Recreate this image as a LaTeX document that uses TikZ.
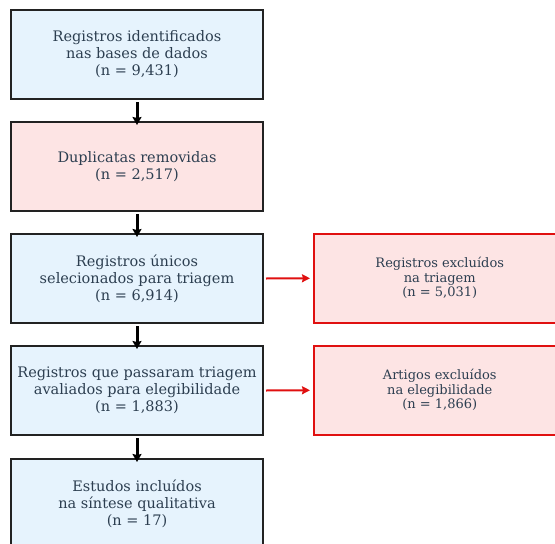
\documentclass[tikz,border=0pt]{standalone}
\usepackage{fontspec}
\setmainfont{DejaVu Serif}
\usetikzlibrary{arrows.meta}
\definecolor{txt}{HTML}{2C3E50}
\definecolor{bluefill}{HTML}{E6F3FD}
\definecolor{redfill}{HTML}{FDE4E4}
\definecolor{redline}{HTML}{E01010}
\definecolor{darkline}{HTML}{222222}
\tikzset{
  basebox/.style={minimum width=252pt, minimum height=89pt, align=center, text=txt, anchor=north west, inner sep=0pt},
  bluebox/.style={basebox, draw=darkline, line width=2pt, fill=bluefill, font=\fontsize{14.5}{17}\selectfont},
  pinkbox/.style={basebox, draw=darkline, line width=2pt, fill=redfill, font=\fontsize{14.5}{17}\selectfont},
  redbox/.style={basebox, draw=redline, line width=1.5pt, fill=redfill, font=\fontsize{13}{14.5}\selectfont},
  downarrow/.style={-{Stealth[length=8pt,width=9pt,inset=1pt]}, line width=3pt, black},
  redarrow/.style={-{Stealth[length=8pt,width=8pt,inset=1pt]}, line width=2pt, redline},
}
\begin{document}
\begin{tikzpicture}[x=1pt,y=-1pt]
\useasboundingbox (0,0) rectangle (555,544);
\node[bluebox] (b1) at (10,9) {Registros identificados\\nas bases de dados\\(n = 9,431)};
\node[pinkbox] (b2) at (10,121) {Duplicatas removidas\\(n = 2,517)};
\node[bluebox] (b3) at (10,233) {Registros únicos\\selecionados para triagem\\(n = 6,914)};
\node[bluebox] (b4) at (10,345) {Registros que passaram triagem\\avaliados para elegibilidade\\(n = 1,883)};
\node[bluebox] (b5) at (10,458) {Estudos incluídos\\na síntese qualitativa\\(n = 17)};
\node[redbox] (r1) at (313,233) {Registros excluídos\\na triagem\\(n = 5,031)};
\node[redbox] (r2) at (313,345) {Artigos excluídos\\na elegibilidade\\(n = 1,866)};
\draw[downarrow] ([yshift=-2pt]b1.south) -- ([yshift=-4pt]b2.north);
\draw[downarrow] ([yshift=-2pt]b2.south) -- ([yshift=-4pt]b3.north);
\draw[downarrow] ([yshift=-2pt]b3.south) -- ([yshift=-4pt]b4.north);
\draw[downarrow] ([yshift=-2pt]b4.south) -- ([yshift=-4pt]b5.north);
\draw[redarrow] ([xshift=2pt]b3.east) -- ([xshift=-3pt]r1.west);
\draw[redarrow] ([xshift=2pt]b4.east) -- ([xshift=-3pt]r2.west);
\end{tikzpicture}
\end{document}
